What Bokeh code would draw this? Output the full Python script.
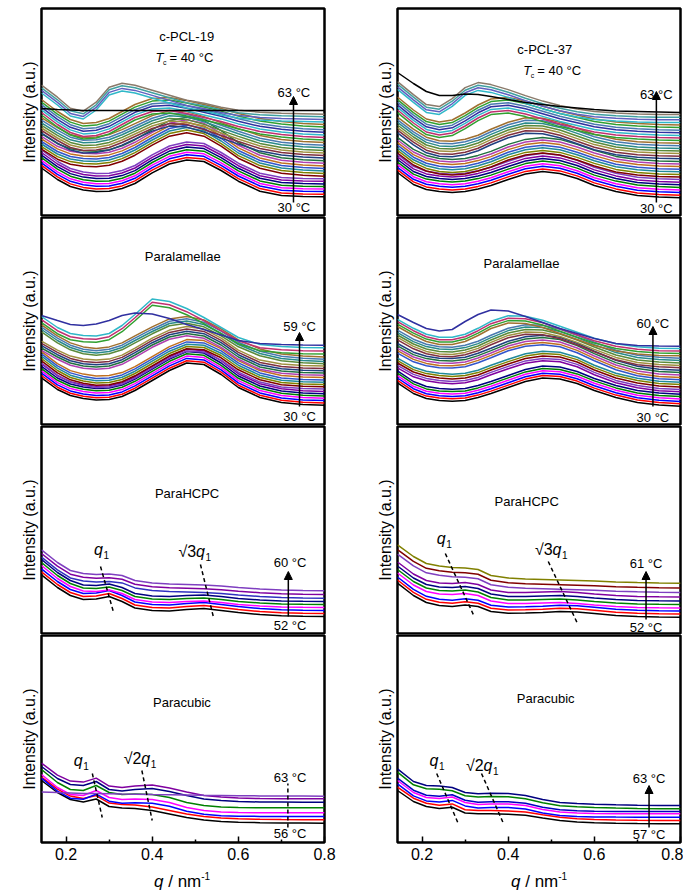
from bokeh.plotting import figure
from bokeh.layouts import row, column
from bokeh.models import Range1d, Arrow, NormalHead, FixedTicker, ColumnDataSource, Div
from bokeh.embed import file_html
from bokeh.resources import INLINE
from bokeh.core.properties import value

FONT = "Liberation Sans"

# scattering vector grid (nm^-1) shared by all curves
Q = [0.143, 0.18, 0.21, 0.24, 0.27, 0.30, 0.33, 0.36, 0.40, 0.44, 0.48, 0.52, 0.56, 0.60, 0.65, 0.70, 0.75, 0.80]

# colour sequences of the stacked curves (bottom -> top)
colors_short = ["#000000", "#FF0000", "#0000FF", "#FF00FF", "#008000", "#000080", "#8000A0", "#7F3FC0",
                "#800000", "#808000"]
colors_26 = colors_short + ["#208A9A", "#3355CC", "#C07020", "#B040B0", "#207040", "#204080", "#803040",
                            "#A09040", "#5A8A3A", "#2A8A8A", "#4A7AB0", "#A07030", "#30A030", "#C03070",
                            "#30B8C8", "#3030A0"]
colors_34 = colors_26 + ["#4A7AB0", "#30A030", "#A07030", "#30B8C8", "#6060C0", "#40A0A0", "#8A7A6A", "#000000"]
hcpc19_colors = ["#000000", "#FF0000", "#0000FF", "#FF00FF", "#008000", "#000080", "#3030C0", "#8000A0", "#7F3FC0"]
cub37_colors = ["#000000", "#FF0000", "#0000FF", "#FF00FF", "#0000C0", "#008000", "#000080"]

# ---------------- c-PCL-19, Tc = 40 C (30 -> 63 C) ----------------
pcl19_a = [47.5, 36, 29, 25.5, 24, 24.3, 27, 32, 42.7, 51.5, 55.5, 54, 45, 34.3, 24.3, 20, 19, 18.7]
pcl19_b = [66, 56, 51, 49, 48.5, 50, 54, 60, 70, 79, 82.5, 79, 69, 57, 47, 42, 40, 39]
pcl19_c = [82, 72, 65, 62, 62.5, 65, 70, 76, 84, 89, 88, 83, 77, 71, 64, 60, 58, 57]
pcl19_d = [100, 88, 80, 76, 77, 81, 88, 95, 101, 102, 99, 95, 91, 86, 81, 78, 76, 75]
pcl19_e = [122, 110, 99, 96, 105, 120, 124, 122, 117, 112, 107, 104, 100, 97, 95, 94, 93.5, 93]
pcl19_f = [108, 107, 106.5, 106, 106, 106, 106, 106, 106, 106, 106, 106, 106, 106, 106, 106, 106, 106]
pcl19_shape = [0, 0, 0, 0, 0, 0, 0, 0, 1, 1, 1, 1, 1, 1, 1, 2, 2, 2, 2, 2, 2, 2,
               3, 3, 3, 3, 3, 3, 3, 4, 4, 4, 4, 5]
pcl19_end = [18.7, 21.3, 23.9, 26.4, 29.0, 31.6, 34.2, 36.7, 39.3, 41.9, 44.5, 47.0, 49.6, 52.2, 54.8,
             57.4, 60.0, 62.5, 65.1, 67.7, 70.3, 72.9, 75.5, 78.0, 80.6, 83.2, 85.8, 88.4, 91.0, 93.5,
             96.1, 98.7, 101.3, 105.0]

# ---------------- c-PCL-37, Tc = 40 C (30 -> 63 C) ----------------
pcl37_a = [43, 31, 26, 24, 23, 24, 26.5, 30, 36, 41.5, 44, 42, 37, 30, 24, 20, 18.5, 17.7]
pcl37_b = [62, 50, 44, 41, 40, 41, 44, 48, 55, 60, 62, 60, 55, 49, 43, 40, 38.5, 38]
pcl37_c = [82, 70, 62, 58.5, 58, 60, 64, 70, 77, 81.5, 81, 77, 71, 65, 60, 57.5, 56.5, 56]
pcl37_d = [102, 89, 80, 77, 79, 86, 94, 100, 101.5, 98, 93, 88, 84, 80, 77, 75.5, 74.5, 74]
pcl37_e = [125, 112, 102, 100, 108, 119, 124, 122, 117, 111, 105.5, 101, 97.5, 95, 93.5, 92.5, 92, 92]
pcl37_f = [143, 132, 124, 120, 120, 121.5, 121, 119, 116, 113, 111, 109, 107.5, 106, 104.5, 104, 103.5, 103]
pcl37_shape = [0, 0, 0, 0, 0, 0, 0, 0, 1, 1, 1, 1, 1, 1, 1, 2, 2, 2, 2, 2, 2, 2,
               3, 3, 3, 3, 3, 3, 3, 4, 4, 4, 4, 5]
pcl37_end = [17.7, 20.3, 22.9, 25.5, 28.1, 30.7, 33.3, 35.9, 38.5, 41.1, 43.7, 46.3, 48.9, 51.5, 54.1,
             56.7, 59.3, 61.9, 64.5, 67.1, 69.7, 72.3, 74.9, 77.5, 80.1, 82.7, 85.3, 87.9, 90.5, 93.1,
             95.7, 98.3, 100.9, 103.0]

# ---------------- Paralamellae, c-PCL-19 (30 -> 59 C) ----------------
para19_a = [46.7, 35, 29, 26, 24.5, 25, 28, 34, 44, 54, 61.5, 60, 50, 37, 27, 22, 20, 19.3]
para19_b = [65, 53, 46, 42.5, 40.5, 41, 44, 50, 60, 70, 77, 76, 68, 56, 46, 41, 39.5, 39]
para19_c = [77, 68, 62, 59, 58, 59, 63, 70, 80, 88, 91.5, 89, 80, 68, 58, 54, 52.5, 52]
para19_d = [98, 87, 80, 76, 74.5, 76, 80, 87, 96, 104, 106.5, 103, 94, 83, 74, 69, 67, 66]
para19_e = [108, 97, 91, 89, 88.5, 91, 99, 110, 125.5, 123, 116, 107, 97, 87, 80, 78, 77, 76.7]
para19_f = [109, 104, 100, 99, 100.5, 104, 109, 111.5, 110.5, 106, 100, 95, 89.5, 84, 81, 80, 79.5, 79.3]
para19_shape = [0, 0, 0, 0, 0, 0, 0, 1, 1, 1, 1, 1, 1, 2, 2, 2, 2, 2, 3, 3, 3, 3, 4, 4, 4, 5]
para19_end = [19.3, 21.6, 23.9, 26.2, 28.5, 30.8, 33.1, 35.4, 37.7, 40.0, 42.3, 44.6, 46.9, 49.2, 51.5,
              53.8, 56.1, 58.4, 60.7, 63.0, 65.3, 67.6, 70.5, 73.5, 76.7, 79.3]

# ---------------- Paralamellae, c-PCL-37 (30 -> 60 C) ----------------
para37_a = [41.7, 31, 26, 24, 23.3, 24, 27, 31, 37, 43, 46.5, 45.5, 41, 34, 27, 22, 19.5, 18.3]
para37_b = [56, 47, 43, 41, 40, 41, 44, 49, 55, 60.5, 63, 62, 57, 49, 41, 36, 33, 32]
para37_c = [71.7, 63, 59, 57, 56.7, 58, 62, 67, 74, 78.5, 80, 78, 72, 64, 55, 49, 46, 45]
para37_d = [88, 79, 74, 71.5, 71, 73, 77, 83, 90, 93.5, 93, 89, 83, 76, 68, 63, 61, 60]
para37_e = [105, 96, 90, 87, 87, 90, 96, 103, 108.5, 108, 104, 98, 92, 86, 80.5, 77.5, 76, 75.7]
para37_f = [110, 102, 96, 93.5, 95, 103, 110, 114.5, 113.5, 108, 102, 96, 91, 86, 81, 79, 78.5, 78.3]
para37_shape = [0, 0, 0, 0, 0, 0, 1, 1, 1, 1, 1, 2, 2, 2, 2, 2, 3, 3, 3, 3, 3, 4, 4, 4, 4, 5]
para37_end = [18.3, 20.7, 23.1, 25.5, 27.9, 30.3, 32.7, 35.1, 37.5, 39.9, 42.3, 44.7, 47.1, 49.5, 51.9,
              54.3, 56.7, 59.1, 61.5, 63.9, 66.3, 68.7, 71.1, 73.5, 75.9, 78.3]

# ---------------- ParaHCPC (52 -> 60 C / 52 -> 61 C) ----------------
hcpc19_a = [58.7, 46, 38, 34, 34.5, 37, 32, 25.5, 23, 22.5, 24, 25, 23, 21, 19, 17.7, 17.2, 17]
hcpc19_b = [72, 59, 51, 46.5, 46, 47.5, 44, 38, 35.5, 35, 36, 36.5, 35, 33, 31.5, 30.5, 30.2, 30]
hcpc19_f = [83.7, 71, 63, 60, 59, 59.5, 58, 53, 50.5, 49.5, 49, 48.5, 47.5, 46, 44.5, 43.5, 43, 42.7]
hcpc19_shape = [0, 0, 0, 1, 1, 1, 2, 2, 2]
hcpc19_end = [17, 20, 23, 26, 29, 32, 35.3, 39, 42.7]

hcpc37_a = [50.3, 38, 31, 28, 27, 28.5, 27, 22, 20.3, 20.5, 21, 22, 21.5, 20, 18, 17, 16.5, 16.3]
hcpc37_b = [68, 56, 49.5, 47, 46.5, 47.5, 45.5, 40, 37.5, 37.5, 38, 38.5, 37.5, 36, 34.5, 33.5, 33.2, 33]
hcpc37_f = [88.7, 77, 70, 67.5, 66, 65.5, 64, 58, 55.5, 54.5, 54, 53.5, 53, 52.5, 51.5, 51, 50.6, 50.3]
hcpc37_shape = [0, 0, 0, 1, 1, 1, 1, 2, 2, 2]
hcpc37_end = [16.3, 19.5, 22.5, 25.5, 29, 32.5, 36.5, 41, 45.5, 50.3]

# ---------------- Paracubic (56 -> 63 C / 57 -> 63 C) ----------------
cub19_a = [62, 50, 43, 40.5, 43.5, 36, 34.5, 34, 32, 28.5, 25, 22.5, 21, 20.3, 19.8, 19.5, 19.4, 19.3]
cub19_b = [68, 55, 48, 47, 52, 45, 43, 43.5, 43, 40, 35, 32, 30.5, 30, 29.8, 29.7, 29.7, 29.7]
cub19_c = [76, 64, 58, 57, 61, 53, 51.5, 53, 54, 51, 47, 43.5, 42, 41, 40.5, 40.4, 40.3, 40.3]
cub19_f = [50.5, 50, 49.5, 49, 49, 48.8, 48.5, 48.3, 48, 47.8, 47.5, 47.2, 47, 46.8, 46.6, 46.5, 46.4, 46.3]
cub19_shape = [0, 0, 1, 1, 1, 2, 2, 3]
cub19_end = [19.3, 22.7, 26, 29.7, 34.7, 40.3, 43.7, 46.3]

cub37_a = [52, 41, 36, 34, 35.3, 29.5, 28.7, 28.7, 28.3, 27.3, 24.5, 22, 20.5, 19.8, 19.3, 19, 18.8, 18.7]
cub37_b = [62, 50, 45, 44, 45.5, 40, 38, 38.5, 38.5, 37, 33, 30.5, 29.5, 29, 28.8, 28.7, 28.7, 28.7]
cub37_f = [73.7, 61, 57, 56.5, 55, 50, 48.7, 49.2, 49, 47, 43, 40, 39, 38.3, 37.7, 37.3, 37.1, 37]
cub37_shape = [0, 0, 1, 1, 1, 2, 2]
cub37_end = [18.7, 22, 25.3, 28.7, 31, 33.7, 37]

x_ticks = [0.2, 0.4, 0.6, 0.8]
x_minor = [0.3, 0.5, 0.7]

FRAME_H = 207


def make_fig(col, rowi):
    bottom = rowi == 3
    top_b = 8 if rowi == 0 else 1
    bot_b = 26 if bottom else 1
    p = figure(width=344 if col == 0 else 339, height=top_b + FRAME_H + bot_b,
               x_range=Range1d(0.143, 0.8), y_range=Range1d(0, FRAME_H),
               output_backend="svg", toolbar_location=None,
               x_axis_location="below" if bottom else None,
               min_border_left=41 if col == 0 else 53, min_border_right=20 if col == 0 else 3,
               min_border_top=top_b, min_border_bottom=bot_b)
    p.title.visible = False
    p.grid.visible = False
    p.outline_line_color = "black"
    p.outline_line_width = 2.5
    p.background_fill_color = "white"
    p.border_fill_color = "white"
    ya = p.yaxis[0]
    ya.ticker = FixedTicker(ticks=[])
    ya.axis_label = "Intensity (a.u.)"
    ya.axis_label_text_font = FONT
    ya.axis_label_text_font_size = "16px"
    ya.axis_label_text_font_style = "normal"
    ya.axis_label_text_color = "black"
    ya.axis_label_standoff = 4
    ya.axis_line_color = None
    ya.major_tick_line_color = None
    ya.minor_tick_line_color = None
    ya.major_tick_in = 0
    ya.major_tick_out = 0
    ya.major_label_standoff = 0
    if bottom:
        xa = p.xaxis[0]
        xa.ticker = FixedTicker(ticks=x_ticks, minor_ticks=x_minor)
        xa.axis_line_color = None
        xa.major_tick_in = 6
        xa.major_tick_out = 0
        xa.minor_tick_in = 3
        xa.minor_tick_out = 0
        xa.major_tick_line_width = 1.5
        xa.minor_tick_line_width = 1.5
        xa.major_tick_line_color = "black"
        xa.minor_tick_line_color = "black"
        xa.major_label_text_font = FONT
        xa.major_label_text_font_size = "16px"
        xa.major_label_text_color = "black"
        xa.major_label_standoff = 5
    return p


def draw_curves(p, shapes, shape_idx, ends, colors):
    xs, ys = [], []
    for k, e in zip(shape_idx, ends):
        s = shapes[k]
        xs.append(Q)
        ys.append([v - s[-1] + e for v in s])
    src = ColumnDataSource(dict(xs=xs, ys=ys, color=colors[:len(ends)]))
    p.multi_line(xs="xs", ys="ys", line_color="color", line_width=1.5, source=src)


def center_text(p, x, y, txt, size="13px"):
    p.text(x=[x], y=[y], text=[txt], text_font=value(FONT), text_font_size=size,
           text_align="center", text_baseline="middle", text_color="black")


def rich(p, x, y, parts):
    src = ColumnDataSource(dict(
        x=[x] * len(parts), y=[y] * len(parts),
        text=[t for t, s, st, dx, dy in parts],
        size=["%dpx" % s for t, s, st, dx, dy in parts],
        style=[st for t, s, st, dx, dy in parts],
        dx=[dx for t, s, st, dx, dy in parts],
        dy=[dy for t, s, st, dx, dy in parts]))
    p.text(x="x", y="y", text="text", source=src, text_font=value(FONT),
           text_font_size="size", text_font_style="style", x_offset="dx", y_offset="dy",
           text_align="left", text_baseline="middle", text_color="black")


def arrow(p, x, y0, y1):
    p.add_layout(Arrow(end=NormalHead(size=8, fill_color="black", line_color="black"),
                       x_start=x, y_start=y0, x_end=x, y_end=y1,
                       line_width=1.5, line_color="black"))


def dash(p, x0, y0, x1, y1):
    p.segment(x0=[x0], y0=[y0], x1=[x1], y1=[y1], line_color="black",
              line_width=1.5, line_dash="4 3")


def tc_label(p, x, y):
    rich(p, x, y, [("T", 13, "italic", 0, 0), ("c", 7, "normal", 7.5, 5), ("= 40 °C", 13, "normal", 14, 0)])


def q1_label(p, x, y):
    rich(p, x, y, [("q", 16, "italic", 0, 0), ("1", 10, "normal", 9.5, 5)])


def root_label(p, x, y, n):
    rich(p, x, y, [("√" + n, 16, "normal", 0, 0), ("q", 16, "italic", 17.5, 0), ("1", 10, "normal", 27, 5)])


def x_title(width, indent):
    html = ('<div style="margin-left:%dpx;font-family:\'Liberation Sans\';font-size:17px;'
            'line-height:18px;color:black;white-space:nowrap"><i>q</i> / nm'
            '<sup style="font-size:10px">-1</sup></div>' % indent)
    return Div(text=html, width=width, height=18, margin=(0, 0, 0, 0))


# ---- row 1 ----
p1 = make_fig(0, 0)
draw_curves(p1, [pcl19_a, pcl19_b, pcl19_c, pcl19_d, pcl19_e, pcl19_f], pcl19_shape, pcl19_end, colors_34)
center_text(p1, 0.48, 179, "c-PCL-19")
tc_label(p1, 0.4075, 158)
arrow(p1, 0.728, 13, 119)
center_text(p1, 0.729, 123, "63 °C")
center_text(p1, 0.729, 8, "30 °C")

p2 = make_fig(1, 0)
draw_curves(p2, [pcl37_a, pcl37_b, pcl37_c, pcl37_d, pcl37_e, pcl37_f], pcl37_shape, pcl37_end, colors_34)
center_text(p2, 0.485, 166, "c-PCL-37")
tc_label(p2, 0.435, 145)
arrow(p2, 0.744, 13, 124)
center_text(p2, 0.744, 121, "63 °C")
center_text(p2, 0.744, 7, "30 °C")

# ---- row 2 ----
p3 = make_fig(0, 1)
draw_curves(p3, [para19_a, para19_b, para19_c, para19_d, para19_e, para19_f], para19_shape, para19_end,
            colors_26)
center_text(p3, 0.471, 168, "Paralamellae")
arrow(p3, 0.742, 18, 92)
center_text(p3, 0.742, 98, "59 °C")
center_text(p3, 0.742, 8, "30 °C")

p4 = make_fig(1, 1)
draw_curves(p4, [para37_a, para37_b, para37_c, para37_d, para37_e, para37_f], para37_shape, para37_end,
            colors_26)
center_text(p4, 0.431, 161, "Paralamellae")
arrow(p4, 0.736, 18, 98)
center_text(p4, 0.736, 101, "60 °C")
center_text(p4, 0.736, 7, "30 °C")

# ---- row 3 ----
p5 = make_fig(0, 2)
draw_curves(p5, [hcpc19_a, hcpc19_b, hcpc19_f], hcpc19_shape, hcpc19_end, hcpc19_colors)
center_text(p5, 0.481, 140, "ParaHCPC")
dash(p5, 0.280, 67, 0.311, 20)
dash(p5, 0.512, 69, 0.543, 15)
q1_label(p5, 0.265, 84)
root_label(p5, 0.461, 82, "3")
arrow(p5, 0.716, 17, 62)
center_text(p5, 0.72, 71, "60 °C")
center_text(p5, 0.72, 8, "52 °C")

p6 = make_fig(1, 2)
draw_curves(p6, [hcpc37_a, hcpc37_b, hcpc37_f], hcpc37_shape, hcpc37_end, colors_short)
center_text(p6, 0.443, 132, "ParaHCPC")
dash(p6, 0.254, 80, 0.319, 19)
dash(p6, 0.493, 72, 0.562, 9)
q1_label(p6, 0.234, 95)
root_label(p6, 0.462, 84, "3")
arrow(p6, 0.72, 14, 62)
center_text(p6, 0.72, 70, "61 °C")
center_text(p6, 0.72, 6, "52 °C")

# ---- row 4 ----
p7 = make_fig(0, 3)
draw_curves(p7, [cub19_a, cub19_b, cub19_c, cub19_f], cub19_shape, cub19_end, colors_short)
center_text(p7, 0.469, 140, "Paracubic")
dash(p7, 0.261, 69, 0.284, 25)
dash(p7, 0.376, 72, 0.400, 22)
q1_label(p7, 0.218, 82)
root_label(p7, 0.334, 84, "2")
dash(p7, 0.715, 15, 0.715, 59)
center_text(p7, 0.72, 65, "63 °C")
center_text(p7, 0.72, 9, "56 °C")

p8 = make_fig(1, 3)
draw_curves(p8, [cub37_a, cub37_b, cub37_f], cub37_shape, cub37_end, cub37_colors)
center_text(p8, 0.487, 144, "Paracubic")
dash(p8, 0.234, 69, 0.284, 19)
dash(p8, 0.338, 69, 0.389, 19)
q1_label(p8, 0.217, 82)
root_label(p8, 0.302, 77, "2")
arrow(p8, 0.727, 15, 57)
center_text(p8, 0.727, 64, "63 °C")
center_text(p8, 0.727, 8, "57 °C")

layout = column(row(p1, p2), row(p3, p4), row(p5, p6), row(p7, p8),
                row(x_title(344, 154), x_title(339, 167)))
open("out.html", "w").write(file_html(layout, INLINE))
